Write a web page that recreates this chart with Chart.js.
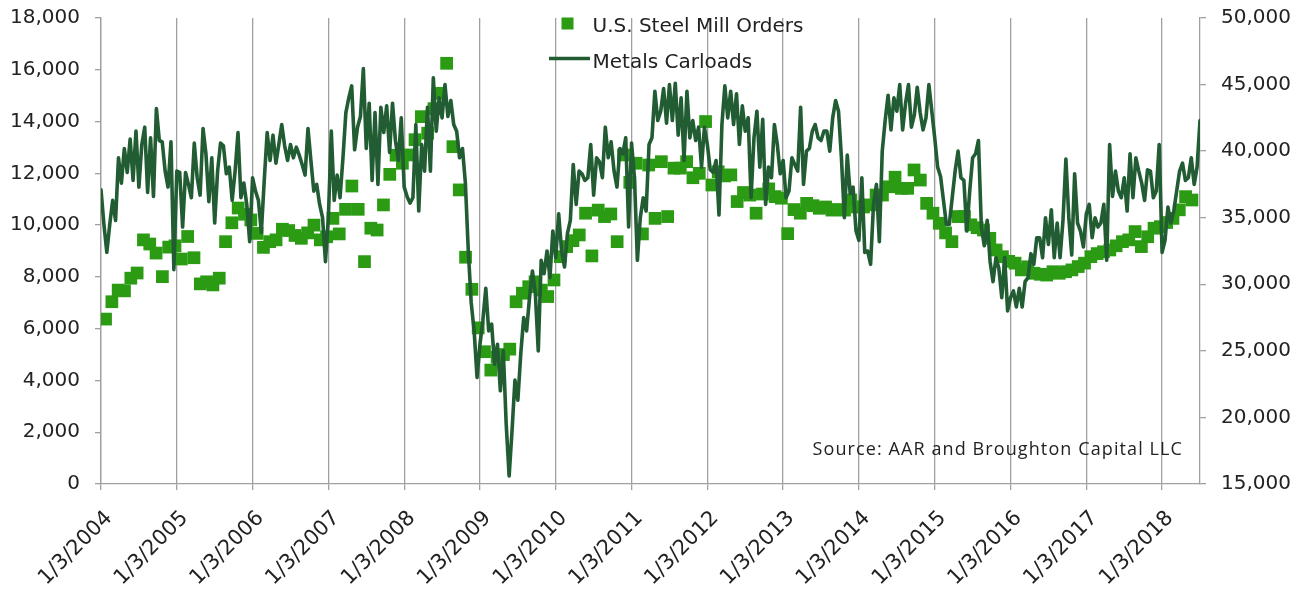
<!DOCTYPE html>
<html>
<head>
<meta charset="utf-8">
<script src="https://cdn.jsdelivr.net/npm/chart.js@4.4.1/dist/chart.umd.min.js"></script>
<style>
  html, body { margin: 0; padding: 0; background: #fff; }
  canvas { display: block; }
</style>
</head>
<body>
<canvas id="chart" width="1309" height="592"></canvas>
<script>
const firstYear = 2004;
const lastX = 2018.5;
const steelLabel = 'U.S. Steel Mill Orders';
const carloadLabel = 'Metals Carloads';
const sourceNote = 'Source: AAR and Broughton Capital LLC';

const carloads2004 = [37100,34500,32400,34500,36300,34800,39500,37600,40200,38400,40900,37800,41500,37300,40500,41800,36900,41000,36600,43200,40800,40700,38500,37300,40700,31100];
const carloads2005 = [38500,38400,34300,38400,37500,36500,40600,38000,36700,41700,39800,36200,39500,34600,38500,40600,40400,38300,38800,36300,38500,41400,36500,37600,36000,33200];
const carloads2006 = [38000,37000,36300,33900,37800,41400,39300,41200,39100,40500,42000,40400,39300,40500,39500,40300,39700,39000,38200,41700,39300,37000,37500,36000,35000,31700];
const carloads2007 = [35000,41500,36300,38200,36500,39500,42900,44000,44900,40100,41800,42600,46200,40200,43600,37800,42900,37500,43300,41400,43400,39900,43600,40800,39300,42500];
const carloads2008 = [37300,36600,36100,36500,42000,35500,40500,38500,43300,38500,45500,41500,44000,42500,45000,42600,43800,42000,41500,39500,40200,37600,32500,28600,26500,23000];
const carloads2009 = [25500,27300,29700,26500,27000,24000,25500,22000,25000,19500,15600,19000,22800,21300,24800,27500,26500,29000,31000,29300,25000,31800,30800,32500,30500,34000];
const carloads2010 = [32000,35300,32500,31300,33800,34800,39000,36000,38500,38300,37800,38000,40500,36700,39500,39200,38000,41800,39500,40700,38500,37300,40200,39800,41000,34300];
const carloads2011 = [40600,38000,31800,35000,36500,35500,40500,41000,44500,42300,43000,44700,42100,45000,42300,45100,41200,44000,39300,44500,41000,42300,40800,41800,38800,41800];
const carloads2012 = [40500,38600,38400,39300,35200,42000,44900,42500,44500,42000,44300,40500,43400,41500,42500,36500,41000,43000,38800,42400,36000,38800,38000,42000,40500,38300];
const carloads2013 = [39300,36500,37000,39500,39000,38500,43300,37500,40000,40200,41500,42000,41000,40800,41500,41500,40000,42500,43800,43000,39500,35000,39700,36800,37300,34000];
const carloads2014 = [33300,38000,32400,32500,31500,36000,37500,33200,40000,42300,44200,41600,44000,43000,45000,41600,43600,45000,41800,42700,44800,42900,41600,42500,45000,43000];
const carloads2015 = [41000,38800,38100,36300,34500,34500,36500,38500,40000,38000,37800,34000,37000,39500,39800,40800,34300,32900,34800,31700,30200,32000,31200,29000,32000,28000];
const carloads2016 = [29000,29500,28300,29700,28300,30200,30500,32300,31500,33500,33500,32000,35000,33000,35600,32000,34600,32000,34800,39400,35000,32200,38300,34600,34000,32800];
const carloads2017 = [35300,36000,33500,35000,34300,34600,36000,31800,40500,36600,38500,37000,36500,38000,35500,39800,36500,39500,38500,37600,36300,38600,38500,36500,37000,40500];
const carloads2018 = [32400,33300,35800,34600,35500,37000,38500,39100,37800,38000,39500,37500,38800,42300];

const carloadsByYear = [carloads2004, carloads2005, carloads2006, carloads2007, carloads2008,
  carloads2009, carloads2010, carloads2011, carloads2012, carloads2013, carloads2014,
  carloads2015, carloads2016, carloads2017, carloads2018];

// u.s. steel mill orders (left axis), monthly
const steel2004 = [6370,7040,7490,7460,7950,8150,9430,9270,8920,8010,9150,9200];
const steel2005 = [8690,9560,8740,7730,7810,7690,7950,9360,10090,10660,10420,10200];
const steel2006 = [9680,9140,9360,9430,9840,9790,9600,9490,9700,10000,9430,9550];
const steel2007 = [10260,9660,10610,11510,10610,8590,9880,9810,10780,11960,12700,12390];
const steel2008 = [12710,13300,14190,13550,14500,15090,16250,13030,11360,8760,7520,6030];
const steel2009 = [5110,4400,4900,5000,5210,7040,7370,7620,7810,7490,7240,7880];
const steel2010 = [8780,9170,9400,9620,10460,8810,10580,10330,10430,9360,12710,11650];
const steel2011 = [12390,9660,12320,10260,12450,10330,12200,12200,12450,11830,12000,14000];
const steel2012 = [11550,12060,11900,11940,10910,11260,11160,10460,11200,11400,11100,11040];
const steel2013 = [9670,10600,10460,10840,10750,10650,10700,10580,10600,10580,10970,10700];
const steel2014 = [10700,10780,11160,11160,11480,11850,11420,11420,12130,11740,10840,10460];
const steel2015 = [10070,9700,9360,10330,10330,10010,9900,9810,9490,9040,8780,8600];
const steel2016 = [8530,8270,8390,8140,8100,8070,8200,8140,8200,8270,8400,8530];
const steel2017 = [8780,8900,8970,9040,9200,9360,9430,9750,9170,9550,9880,9940];
const steel2018 = [10100,10260,10590,11100,10970];

const steelByYear = [steel2004, steel2005, steel2006, steel2007, steel2008, steel2009,
  steel2010, steel2011, steel2012, steel2013, steel2014, steel2015, steel2016,
  steel2017, steel2018];

const lineColor = '#215c33';
const squareColor = '#2b9b14';
const axisGray = '#a0a0a0';
const textColor = '#222';
const tickFont = { family: "'DejaVu Sans', sans-serif", size: 20 };
const dateFont = { family: "'DejaVu Sans', sans-serif", size: 21 };

const carloadPoints = [];
carloadsByYear.forEach((vals, n) => {
  vals.forEach((v, i) => carloadPoints.push({ x: firstYear + n + i / 26, y: v }));
});

const steelPoints = [];
steelByYear.forEach((vals, n) => {
  vals.forEach((v, m) => steelPoints.push({ x: firstYear + n + (m + 0.72) / 12, y: v }));
});

// the y axes add their label padding on top; drop it so the plot starts at layout.padding.top
function fixWidth(w) {
  return (axis) => {
    axis.width = w;
    axis.paddingTop = 0;
    axis.paddingBottom = 0;
  };
}

// legend sits inside the plot, two rows, plus the source note
const legendAndNote = {
  id: 'legendAndNote',
  afterDraw(chart) {
    const { ctx, chartArea } = chart;
    const sets = chart.data.datasets;
    const left = chartArea.left;
    const top = chartArea.top;
    ctx.save();
    ctx.fillStyle = sets[0].backgroundColor;
    ctx.fillRect(left + 460.5, top - 0.5, 12, 12);
    ctx.strokeStyle = sets[1].borderColor;
    ctx.lineWidth = 3.6;
    ctx.beginPath();
    ctx.moveTo(left + 448, top + 40.5);
    ctx.lineTo(left + 489, top + 40.5);
    ctx.stroke();
    ctx.fillStyle = textColor;
    ctx.font = "20px 'DejaVu Sans', sans-serif";
    ctx.textBaseline = 'alphabetic';
    ctx.fillText(sets[0].label, left + 491.5, top + 14.3);
    ctx.fillText(sets[1].label, left + 491.5, top + 49.5);
    ctx.font = "18px 'Open Sans', sans-serif";
    ctx.letterSpacing = '1.1px';
    ctx.fillText(sourceNote, left + 711.5, chartArea.bottom - 29);
    ctx.restore();
  }
};

const ctx = document.getElementById('chart').getContext('2d');

new Chart(ctx, {
  type: 'scatter',
  data: {
    datasets: [
      {
        label: steelLabel,
        data: steelPoints,
        yAxisID: 'y',
        pointStyle: 'rect',
        pointRadius: 9,
        backgroundColor: squareColor,
        borderWidth: 0,
        order: 2,
      },
      {
        label: carloadLabel,
        data: carloadPoints,
        yAxisID: 'y2',
        showLine: true,
        pointRadius: 0,
        borderColor: lineColor,
        borderWidth: 3.6,
        borderJoinStyle: 'round',
        borderCapStyle: 'round',
        order: 1,
      }
    ]
  },
  options: {
    responsive: false,
    animation: false,
    layout: { padding: { top: 18 } },
    plugins: {
      legend: { display: false },
      tooltip: { enabled: false },
    },
    scales: {
      x: {
        type: 'linear',
        min: firstYear,
        max: lastX,
        afterFit: (axis) => { axis.height = 108; },
        grid: { color: axisGray, lineWidth: 1.3, tickLength: 6 },
        border: { color: axisGray, width: 1.3 },
        ticks: {
          stepSize: 1,
          includeBounds: false,
          autoSkip: false,
          maxRotation: 45,
          minRotation: 45,
          padding: 16,
          labelOffset: 8,
          color: textColor,
          font: dateFont,
          callback: (v) => '1/3/' + v,
        }
      },
      y: {
        position: 'left',
        min: 0,
        max: 18000,
        afterFit: fixWidth(101),
        grid: { drawOnChartArea: false, color: axisGray, lineWidth: 1.3, tickLength: 6 },
        border: { color: axisGray, width: 1.3 },
        ticks: {
          stepSize: 2000,
          padding: 15,
          color: textColor,
          font: tickFont,
          callback: (v) => v.toLocaleString('en-US'),
        }
      },
      y2: {
        position: 'right',
        min: 15000,
        max: 50000,
        afterFit: fixWidth(109),
        grid: { drawOnChartArea: false, color: axisGray, lineWidth: 1.3, tickLength: 6 },
        border: { color: axisGray, width: 1.3 },
        ticks: {
          stepSize: 5000,
          padding: 15,
          color: textColor,
          font: tickFont,
          callback: (v) => v.toLocaleString('en-US'),
        }
      }
    }
  },
  plugins: [legendAndNote]
});
</script>
</body>
</html>
